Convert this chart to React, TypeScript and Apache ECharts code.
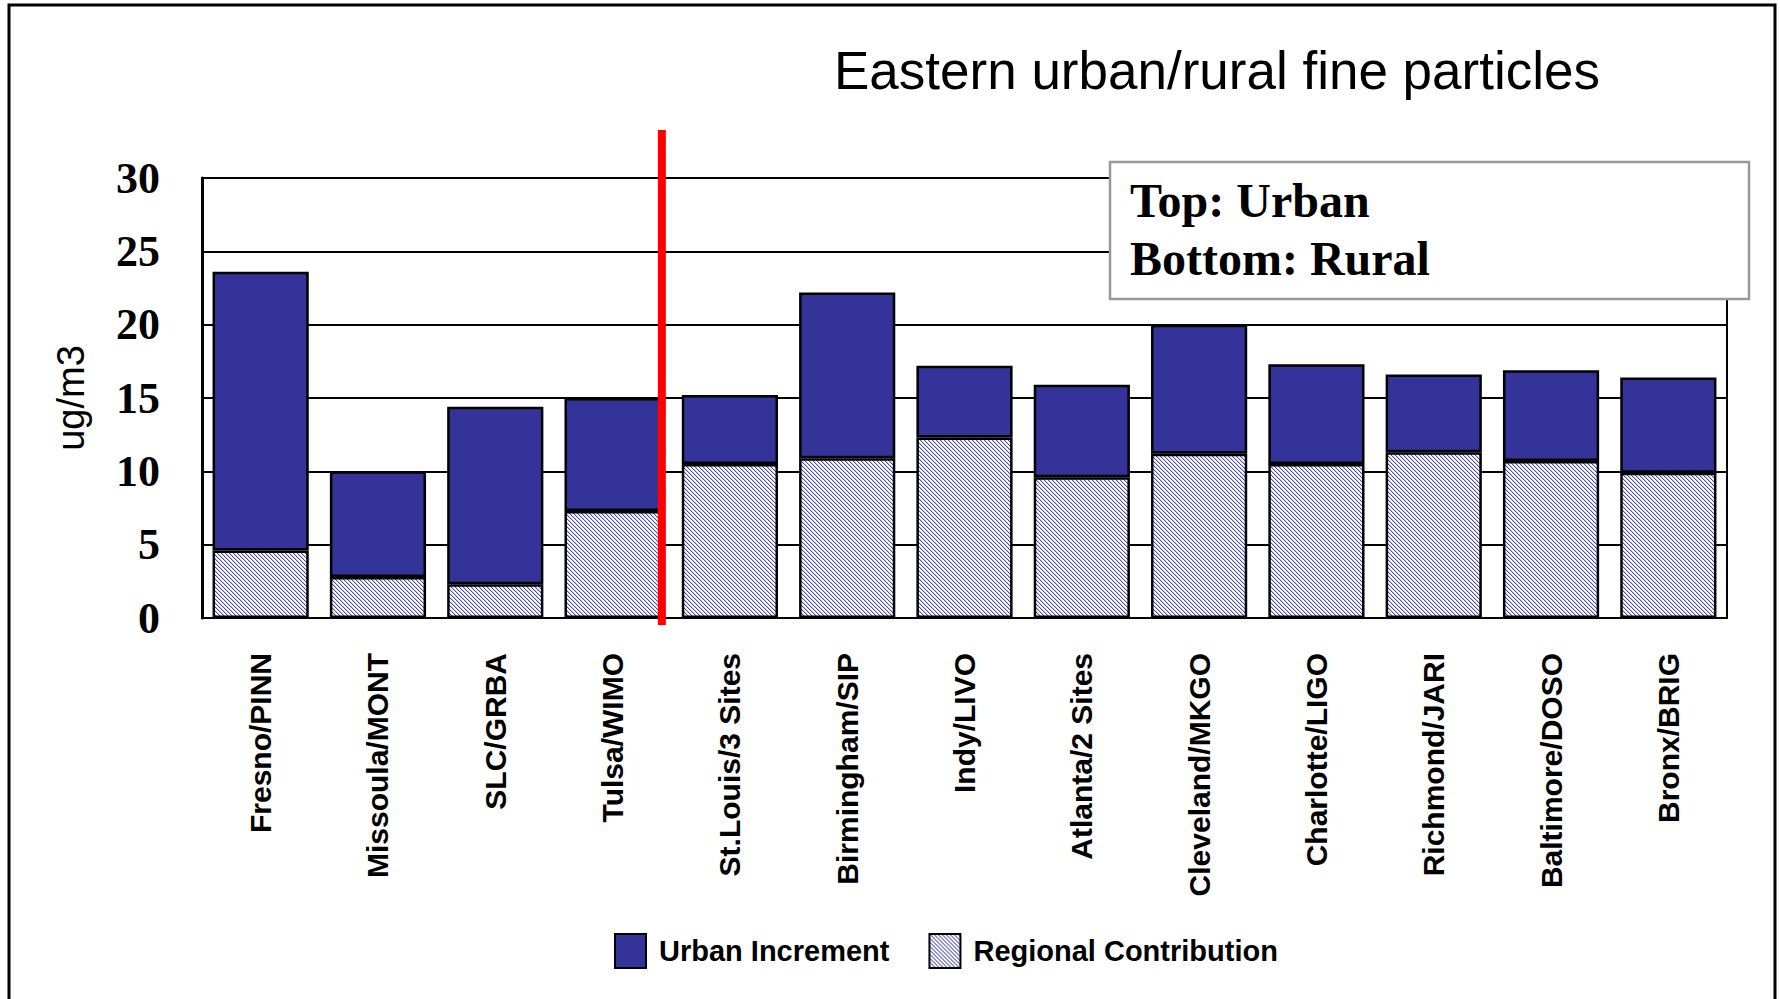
import React, { useEffect, useRef } from 'react';
import * as echarts from 'echarts';

const categories = [
  'Fresno/PINN', 'Missoula/MONT', 'SLC/GRBA', 'Tulsa/WIMO', 'St.Louis/3 Sites',
  'Birmingham/SIP', 'Indy/LIVO', 'Atlanta/2 Sites', 'Cleveland/MKGO',
  'Charlotte/LIGO', 'Richmond/JARI', 'Baltimore/DOSO', 'Bronx/BRIG',
];
const regionalContribution = [4.6, 2.8, 2.3, 7.3, 10.5, 10.9, 12.3, 9.6, 11.2, 10.5, 11.3, 10.7, 9.9];
const urbanIncrement = [19.0, 7.2, 12.1, 7.7, 4.7, 11.3, 4.9, 6.3, 8.8, 6.8, 5.3, 6.2, 6.5];
const seriesNames = ['Urban Increment', 'Regional Contribution'];
const titleText = 'Eastern urban/rural fine particles';
const noteLines = ['Top: Urban', 'Bottom: Rural'];
const yAxisName = 'ug/m3';

const SANS = "'Liberation Sans', Arial, sans-serif";
const SERIF = "'Liberation Serif', 'Times New Roman', serif";

function makeHatch(): string {
  const n = 4;
  const c = document.createElement('canvas');
  c.width = n;
  c.height = n;
  const ctx = c.getContext('2d')!;
  ctx.fillStyle = '#ffffff';
  ctx.fillRect(0, 0, n, n);
  for (let y = 0; y < n; y++) {
    for (let x = 0; x < n; x++) {
      const d = (x - y + n) % n;
      if (d === 0) ctx.fillStyle = '#4848b8';
      else if (d === 1) ctx.fillStyle = '#c8c8ee';
      else continue;
      ctx.fillRect(x, y, 1, 1);
    }
  }
  return c.toDataURL();
}

export default function App() {
  const ref = useRef<HTMLDivElement>(null);
  useEffect(() => {
    document.body.style.margin = '0';
    const chart = echarts.init(ref.current!, null, { renderer: 'svg' });
    const hatch: any = { image: makeHatch(), repeat: 'repeat', imageWidth: 4, imageHeight: 4 };
    const option: any = {
      animation: false,
      backgroundColor: '#ffffff',
      title: {
        text: titleText,
        left: 834,
        top: 44,
        padding: 0,
        textStyle: { fontFamily: SANS, fontWeight: 'normal', fontSize: 53, color: '#000' },
      },
      legend: {
        data: seriesNames,
        left: 614,
        top: 933,
        padding: 0,
        itemWidth: 31,
        itemHeight: 34,
        itemGap: 39,
        icon: 'rect',
        selectedMode: false,
        textStyle: { fontFamily: SANS, fontWeight: 'bold', fontSize: 29, color: '#000', padding: [0, 0, 0, 8] },
      },
      grid: {
        left: 202, right: 53, top: 178, bottom: 381,
        show: true, borderColor: '#000', borderWidth: 2, backgroundColor: 'transparent',
      },
      xAxis: {
        type: 'category',
        data: categories,
        axisLine: { show: true, lineStyle: { color: '#111', width: 4, shadowColor: '#999', shadowOffsetY: 3 } },
        axisTick: { show: false },
        axisLabel: {
          rotate: 90, margin: 35, interval: 0,
          fontFamily: SANS, fontWeight: 'bold', fontSize: 30, color: '#000',
        },
        splitLine: { show: false },
      },
      yAxis: {
        type: 'value',
        min: 0, max: 30, interval: 5,
        name: yAxisName,
        nameLocation: 'middle',
        nameGap: 112,
        nameTextStyle: { fontFamily: SANS, fontSize: 38, color: '#000' },
        axisLine: { show: true, lineStyle: { color: '#000', width: 3 } },
        axisTick: { show: false },
        axisLabel: { margin: 42, fontFamily: SERIF, fontWeight: 'bold', fontSize: 44, color: '#000' },
        splitLine: { show: true, lineStyle: { color: '#000', width: 2 } },
      },
      series: [
        {
          name: seriesNames[1], type: 'bar', stack: 'pm', data: regionalContribution, barWidth: '82%',
          itemStyle: { color: hatch, borderColor: '#000', borderWidth: 2.5 },
        },
        {
          name: seriesNames[0], type: 'bar', stack: 'pm', data: urbanIncrement, barWidth: '82%',
          itemStyle: { color: '#333399', borderColor: '#000', borderWidth: 2.5 },
        },
      ],
    };
    chart.setOption(option);
    const x3 = chart.convertToPixel({ xAxisIndex: 0 }, categories[3]) as number;
    const x4 = chart.convertToPixel({ xAxisIndex: 0 }, categories[4]) as number;
    const redX = x3 + (x4 - x3) * 0.42;
    const F = 48;
    chart.setOption({
      graphic: [
        {
          type: 'rect', z: -10, silent: true,
          shape: { x: 9, y: 5, width: 1766, height: 1030 },
          style: { fill: 'none', stroke: '#000', lineWidth: 3 },
        },
        {
          type: 'line', z: 100, silent: true,
          shape: { x1: redX, y1: 130, x2: redX, y2: 625 },
          style: { stroke: '#ff0000', lineWidth: 8 },
        },
        {
          type: 'group', z: 100, silent: true,
          children: [
            {
              type: 'rect',
              shape: { x: 1110, y: 162, width: 639, height: 137 },
              style: { fill: '#fff', stroke: '#999', lineWidth: 2.5 },
            },
            {
              type: 'text',
              style: { text: noteLines[0], x: 1130, y: 217 - 0.3375 * F, verticalAlign: 'middle', fill: '#000', font: `bold ${F}px ${SERIF}` },
            },
            {
              type: 'text',
              style: { text: noteLines[1], x: 1130, y: 275 - 0.3375 * F, verticalAlign: 'middle', fill: '#000', font: `bold ${F}px ${SERIF}` },
            },
          ],
        },
      ],
    });
    return () => chart.dispose();
  }, []);
  return <div ref={ref} style={{ width: 1780, height: 999 }} />;
}
